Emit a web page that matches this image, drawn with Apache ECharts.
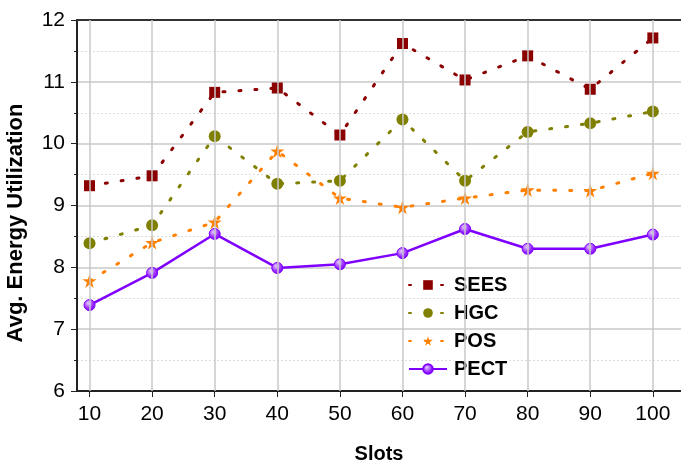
<!DOCTYPE html>
<html>
<head>
<meta charset="utf-8">
<script src="https://cdn.jsdelivr.net/npm/echarts@6/dist/echarts.min.js"></script>
<style>
  html, body { margin: 0; padding: 0; background: #fff; }
  #chart { width: 681px; height: 469px; }
</style>
</head>
<body>
<div id="chart"></div>
<script>
// Slot counts on the x axis
const slots = [10, 20, 30, 40, 50, 60, 70, 80, 90, 100];

// Average energy utilization per scheme
const sees = [9.32, 9.48, 10.83, 10.90, 10.14, 11.62, 11.03, 11.42, 10.88, 11.71];
const hgc  = [8.39, 8.68, 10.12, 9.35, 9.40, 10.39, 9.40, 10.19, 10.33, 10.52];
const pos  = [7.78, 8.40, 8.73, 9.88, 9.12, 8.97, 9.12, 9.25, 9.24, 9.52];
const pect = [7.39, 7.91, 8.54, 7.99, 8.05, 8.23, 8.62, 8.30, 8.30, 8.53];

const seriesNames = ['SEES', 'HGC', 'POS', 'PECT'];

const FONT = '"Liberation Sans", Arial, sans-serif';

function pairs(vals) {
  return slots.map((s, i) => [s, vals[i]]);
}

const chart = echarts.init(document.getElementById('chart'));

// short round-capped dashes with wide gaps
const dotted = { type: [2, 14], cap: 'round', width: 3 };

chart.setOption({
  backgroundColor: '#ffffff',
  animation: false,
  grid: { left: 77, right: 0, top: 20, bottom: 77, containLabel: false },
  legend: {
    data: seriesNames,
    orient: 'vertical',
    left: 403,
    top: 270,
    itemWidth: 38,
    itemHeight: 12,
    itemGap: 8,
    textStyle: { fontFamily: FONT, fontSize: 20, fontWeight: 'bold', color: '#000',
      backgroundColor: '#fff', padding: [0, 2] },
    backgroundColor: 'transparent'
  },
  graphic: [{
    type: 'text',
    x: 16,
    y: 223,
    rotation: Math.PI / 2,
    style: {
      text: 'Avg. Energy Utilization',
      fontFamily: FONT, fontSize: 22, fontWeight: 'bold', fill: '#000',
      align: 'center', verticalAlign: 'middle'
    }
  }],
  xAxis: [{
    type: 'value',
    min: 8,
    max: 104.5,
    name: 'Slots',
    nameLocation: 'middle',
    nameGap: 53,
    nameTextStyle: { fontFamily: FONT, fontSize: 20, fontWeight: 'bold', color: '#000' },
    axisLine: { show: true, onZero: false, lineStyle: { color: '#222', width: 2 } },
    axisTick: { show: true, inside: false, length: 6, customValues: slots, lineStyle: { color: '#222', width: 1 } },
    axisLabel: { customValues: slots, margin: 13, fontFamily: FONT, fontSize: 21, color: '#000' },
    splitLine: { show: false }
  }, {
    type: 'value',
    position: 'top',
    min: 8,
    max: 104.5,
    axisLine: { show: true, lineStyle: { color: '#333', width: 2 } },
    axisTick: { show: false },
    axisLabel: { show: false },
    splitLine: { show: false }
  }],
  yAxis: {
    type: 'value',
    min: 6,
    max: 12,
    interval: 1,
    axisLine: { show: true, lineStyle: { color: '#222', width: 2 } },
    axisTick: { show: true, inside: false, length: 6, lineStyle: { color: '#222', width: 1 } },
    minorTick: { show: true, splitNumber: 2, length: 3, lineStyle: { color: '#222' } },
    axisLabel: { margin: 12, fontFamily: FONT, fontSize: 21, color: '#000' },
    splitLine: { show: true, lineStyle: { color: '#c8c8c8', width: 1.5 } },
    minorSplitLine: { show: true, lineStyle: { color: '#dcdcdc', type: [2, 2], width: 1 } }
  },
  series: [
    {
      // vertical grid lines at each slot value
      type: 'line',
      data: [],
      silent: true,
      markLine: {
        silent: true,
        symbol: 'none',
        label: { show: false },
        lineStyle: { color: '#c8c8c8', type: 'solid', width: 1.5 },
        data: slots.map(s => ({ xAxis: s }))
      }
    },
    {
      name: 'SEES', type: 'line', data: pairs(sees),
      symbol: 'rect', symbolSize: 11,
      itemStyle: { color: '#8b0000' },
      lineStyle: Object.assign({ color: '#8b0000' }, dotted)
    },
    {
      name: 'HGC', type: 'line', data: pairs(hgc),
      symbol: 'circle', symbolSize: 12,
      itemStyle: { color: '#808000' },
      lineStyle: Object.assign({ color: '#808000' }, dotted)
    },
    {
      name: 'POS', type: 'line', data: pairs(pos),
      symbol: 'path://M50,0 L61,35 L98,35 L68,57 L79,92 L50,70 L21,92 L32,57 L2,35 L39,35 Z',
      symbolSize: 14,
      itemStyle: { color: '#ff8000' },
      lineStyle: Object.assign({ color: '#ff8000' }, dotted)
    },
    {
      name: 'PECT', type: 'line', data: pairs(pect),
      symbol: 'circle', symbolSize: 11,
      itemStyle: {
        color: {
          type: 'radial', x: 0.4, y: 0.35, r: 0.65,
          colorStops: [
            { offset: 0, color: '#e8ccff' },
            { offset: 0.6, color: '#9a33ff' },
            { offset: 1, color: '#8000ff' }
          ]
        },
        borderColor: '#8000ff', borderWidth: 1
      },
      lineStyle: { color: '#8000ff', width: 2.5, type: 'solid' }
    }
  ]
});
</script>
</body>
</html>
